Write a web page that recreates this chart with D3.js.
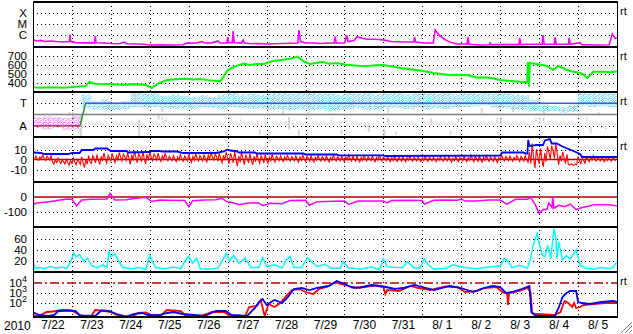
<!DOCTYPE html>
<html lang="en">
<head>
<meta charset="utf-8">
<title>Space weather stack plot, 2010 Jul 22 - Aug 5</title>
<script src="https://cdnjs.cloudflare.com/ajax/libs/d3/7.8.5/d3.min.js"></script>
<style>
    body { margin: 0; background: #fff; }
    svg text { font-family: "Liberation Sans", Arial, sans-serif; fill: #000; }
</style>
</head>
<body>
<svg id="chart" width="633" height="334"></svg>
<script>
    // ---- data (t = days since 2010-07-22 00:00) ----
    var dayLabels = ["7/22", "7/23", "7/24", "7/25", "7/26", "7/27", "7/28", "7/29", "7/30", "7/31",
        "8/ 1", "8/ 2", "8/ 3", "8/ 4", "8/ 5"];

    // GOES x-ray flux, log10 W/m2
    var xrayLog = [[0,-6.45],[0.1,-6.55],[0.2,-6.5],[0.3,-6.6],[0.45,-6.55],[0.6,-6.6],[0.8,-6.65],[0.93,-6.6],[0.95,-6.0],[0.97,-6.6],
        [1.1,-6.7],[1.3,-6.72],[1.5,-6.7],[1.58,-6.74],[1.6,-6.1],[1.62,-6.72],[1.8,-6.74],[2.0,-6.78],[2.2,-6.8],[2.35,-6.65],[2.4,-6.8],
        [2.6,-6.83],[2.85,-6.85],[3.0,-6.92],[3.3,-6.9],[3.6,-6.92],[3.85,-6.9],[3.95,-6.75],[4.2,-6.74],[4.35,-6.6],[4.4,-6.74],[4.6,-6.72],
        [4.75,-6.55],[4.8,-6.74],[4.98,-6.74],[5.0,-6.2],[5.02,-6.7],[5.12,-6.7],[5.14,-5.64],[5.17,-6.7],[5.35,-6.74],[5.4,-6.46],[5.43,-6.74],
        [5.6,-6.8],[5.8,-6.78],[6.0,-6.83],[6.2,-6.8],[6.4,-6.78],[6.6,-6.76],[6.8,-6.74],[6.83,-5.55],[6.87,-6.6],[7.0,-6.74],[7.2,-6.74],
        [7.4,-6.78],[7.6,-6.74],[7.74,-6.74],[7.76,-6.15],[7.79,-6.74],[8.0,-6.74],[8.06,-6.05],[8.09,-6.6],[8.25,-6.5],[8.32,-6.15],[8.45,-6.3],
        [8.6,-6.4],[8.8,-6.4],[9.0,-6.45],[9.2,-6.6],[9.5,-6.64],[9.78,-6.64],[9.8,-6.2],[9.83,-6.64],[10.0,-6.74],[10.28,-6.74],[10.33,-5.55],
        [10.45,-6.1],[10.6,-6.46],[10.75,-6.7],[10.9,-6.83],[11.15,-6.83],[11.17,-6.19],[11.2,-6.85],[11.5,-6.92],[11.72,-6.9],[11.74,-6.74],
        [11.77,-6.9],[12.0,-6.88],[12.48,-6.88],[12.5,-6.28],[12.53,-6.88],[12.7,-6.85],[13.08,-6.85],[13.1,-6.01],[13.13,-6.85],[13.39,-6.85],
        [13.41,-6.19],[13.44,-6.85],[13.75,-6.85],[13.77,-6.28],[13.8,-6.85],[14.05,-6.7],[14.1,-6.88],[14.5,-6.92],[14.8,-6.9],[14.88,-5.92],
        [14.95,-6.3],[15,-6.3]];

    // solar wind speed, km/s
    var speed = [[0,352],[0.2,348],[0.4,352],[0.6,350],[0.8,348],[1.0,355],[1.2,360],[1.35,365],[1.45,415],[1.55,395],[1.7,390],[2.0,385],
        [2.3,380],[2.6,385],[2.9,378],[3.05,344],[3.2,390],[3.44,433],[3.6,438],[3.86,448],[4.1,440],[4.29,444],[4.5,432],[4.72,422],[4.8,415],
        [4.85,440],[5.0,544],[5.2,585],[5.4,615],[5.57,600],[5.75,612],[5.92,611],[6.17,644],[6.43,659],[6.6,670],[6.8,693],[6.94,644],
        [7.11,611],[7.3,625],[7.45,633],[7.6,615],[7.8,622],[8.0,605],[8.14,600],[8.35,592],[8.57,589],[8.8,598],[8.99,600],[9.2,585],
        [9.43,567],[9.65,555],[9.86,544],[10.05,530],[10.28,511],[10.5,500],[10.71,489],[10.9,492],[11.15,489],[11.43,459],[11.6,465],
        [11.8,452],[12.0,433],[12.2,425],[12.5,415],[12.69,407],[12.71,633],[12.74,360],[12.76,625],[12.8,620],[12.94,611],
        [13.2,589],[13.36,544],[13.49,589],[13.65,560],[13.79,533],[14.05,511],[14.15,490],[14.23,456],[14.3,480],[14.39,526],[14.64,526],
        [14.85,520],[15,530]];

    // IMF sector (A = 90, T = 270) and azimuth angle readings
    var sector = [[0,90],[1.21,90],[1.35,270],[15,270]];
    var phiLo = [70,60,75,55,60,230,220,215,215,220,240,235,240,230,225,230,225,240,230,220,240,230,225,230,220,225,215,220,215,225,
        210,215,220,230,215,220,230,235,225,240,220,230,225,235,240,245,250,235,230,220,215,210,200,205,195,200,250,240,245,240];
    var phiHi = [160,165,160,150,170,340,290,300,275,290,350,345,345,330,340,330,320,335,320,340,350,340,345,340,350,355,345,350,350,345,
        350,340,350,345,350,340,345,350,340,345,350,345,350,340,350,345,350,345,350,340,335,300,260,250,240,255,345,350,350,350];
    var phiPink = [[3.3,110,160],[3.4,120,150],[5.05,90,160],[5.3,130,150],[5.75,80,130],[6.5,110,130],[6.65,100,120],[7.65,130,150],
        [7.9,110,125],[8.5,60,110],[9.1,110,150],[10.2,100,130],[10.9,120,150],[11.9,110,150],[12.9,120,160],[13.0,110,150],[13.1,115,155],
        [14.2,130,160],[14.7,60,110]];
    var phiGray = [[0.9,180,200],[1.0,150,200],[1.2,0,190],[2.6,280,350],[2.7,0,140],[3.2,140,180],[3.3,200,230],[5.8,20,60],[6.4,180,230],
        [6.55,60,160],[6.8,10,60],[7.0,250,300],[7.05,190,200],[7.9,20,60],[8.2,250,300],[8.6,40,110],[9.0,10,60],[9.1,190,240],[9.3,20,40],
        [9.75,220,260],[10.2,120,150],[10.7,20,50],[11.5,190,230],[12.0,100,150],[12.3,200,250],[13.1,180,220],[13.6,200,230],[14.3,30,80],
        [14.5,180,200]];

    // IMF |B| (nT) and Bz range per 6 hours (nT)
    var bt = [[0,7],[0.2,6.5],[0.3,5.5],[0.9,5.5],[1.0,6.5],[1.2,6.5],[1.25,9.5],[1.55,9.5],[1.6,11],[1.9,11],[2.0,8.5],[2.4,8.5],[2.45,7],
        [3.0,7.5],[3.05,8.5],[3.25,8.5],[3.3,8],[3.7,8],[3.86,6.5],[4.7,6.5],[4.9,8],[5.0,10],[5.06,9],[5.2,8.5],[5.3,7],[5.7,7],[5.75,6],
        [6.95,6],[7.0,5],[7.8,5],[7.85,4.2],[9.0,4.2],[9.05,3.5],[12.0,4],[12.05,7],[12.6,7],[12.65,6],[12.7,6],[12.72,19.5],[12.75,13.5],
        [12.95,14.5],[13.1,14.5],[13.15,19],[13.28,20.5],[13.32,16],[13.45,16],[13.6,13],[13.85,9],[14.05,5.5],[14.1,2.5],[15,2.5]];
    var bzLo = [-1,-2,-5,-6,-6.5,-8.5,-5.5,-5,-3.5,-3,-5.5,-5,-2.5,-2.5,-2.5,-3,-3.5,-3,-2,-4,-6.5,-7.5,-6,-5.5,-4,-2.5,-2.5,-3,-3,-2.5,
        -3,-2.5,-2.5,-3,-2.5,-2.5,-2.5,-3,-2.5,-2.5,-3,-2.5,-2.5,-3,-2.5,-3.5,-3,-3.5,-2.5,-2,-3,-13,-8.5,-3,-6,-6,-5.5,-2.5,-2.5,-2.5];
    var bzHi = [4,4.5,1.5,1,1.5,4,6,6.5,7,7.5,9,9.5,7.5,6,4.5,5,6,5.5,7,7.5,9.5,8,7,6,5,4.5,4,4.5,4.5,4,
        4.5,4,4.5,4,4,4,3.5,3.5,3.5,3,3.5,3,3.5,3,3.5,4.5,4,4,4.5,4,4.5,16,13,18,8,-4,3,4,2.5,2.5];

    // Dst (nT)
    var dst = [[0,-31],[0.05,-47],[0.1,-40],[0.3,-35],[0.5,-28],[0.7,-20],[0.9,-13],[1.0,-15],[1.12,-58],[1.25,-20],[1.5,-15],[1.9,-14],
        [1.98,24],[2.1,-20],[2.4,-18],[2.6,-10],[2.9,-2],[3.05,-30],[3.26,-20],[3.5,-22],[3.9,-24],[4.0,-64],[4.1,-25],[4.4,-20],[4.7,-18],
        [4.85,-9],[4.98,-31],[5.15,-40],[5.3,-52],[5.5,-40],[5.8,-40],[5.9,-58],[6.1,-42],[6.4,-45],[6.6,-24],[7.0,-22],[7.1,-55],[7.3,-31],
        [7.7,-28],[8.0,-26],[8.1,-50],[8.35,-27],[8.7,-26],[9.0,-27],[9.1,-40],[9.2,-24],[9.6,-22],[10.0,-24],[10.05,-47],[10.3,-22],
        [10.6,-20],[10.9,-22],[11.0,-13],[11.1,-27],[11.4,-26],[11.7,-20],[12.0,-20],[12.17,-47],[12.4,-15],[12.7,-15],[12.78,-2],[12.9,-51],
        [13.0,-110],[13.1,-84],[13.2,-84],[13.25,-40],[13.33,-70],[13.35,7],[13.38,-75],[13.5,-55],[13.65,-65],[13.8,-47],[13.95,-84],
        [14.1,-70],[14.3,-60],[14.4,-51],[14.8,-51],[15,-60]];

    // cyan index
    var cyanIdx = [[0,19],[0.05,7],[0.15,8],[0.3,6],[0.45,10],[0.6,7],[0.75,9],[0.86,6],[0.95,16],[1.05,34],[1.1,28],[1.2,31],[1.3,20],
        [1.4,25],[1.5,12],[1.65,8],[1.8,13],[1.9,9],[1.95,38],[2.0,28],[2.1,33],[2.2,20],[2.3,9],[2.5,6],[2.7,8],[2.9,5],[3.0,30],[3.05,22],
        [3.15,8],[3.4,6],[3.6,9],[3.8,6],[3.9,20],[4.0,28],[4.1,16],[4.2,25],[4.3,6],[4.5,5],[4.75,7],[4.97,34],[5.05,20],[5.15,30],[5.3,16],
        [5.45,25],[5.6,8],[5.8,8],[5.9,26],[6.0,10],[6.2,13],[6.4,7],[6.5,22],[6.6,28],[6.7,8],[6.9,8],[7.05,26],[7.15,19],[7.3,10],[7.5,14],
        [7.65,7],[7.9,7],[7.95,19],[8.1,8],[8.4,5],[8.7,9],[8.9,4],[9.0,24],[9.1,10],[9.3,8],[9.5,8],[9.6,19],[9.8,7],[9.95,8],[10.05,24],
        [10.15,13],[10.3,5],[10.6,7],[10.8,13],[10.95,10],[11.1,8],[11.4,6],[11.7,9],[12.0,11],[12.1,24],[12.2,20],[12.3,8],[12.5,12],
        [12.7,7],[12.78,24],[12.85,50],[12.95,70],[13.0,51],[13.08,30],[13.15,28],[13.22,48],[13.3,24],[13.38,79],[13.43,60],[13.46,24],
        [13.5,55],[13.6,22],[13.7,30],[13.8,24],[13.95,40],[14.05,13],[14.2,7],[14.4,5],[14.6,8],[14.8,6],[14.9,8],[15,19]];

    // electron flux, log10
    var eRedLog = [[0,0.7],[0.2,0.8],[0.35,1.1],[0.5,1.15],[0.75,1.3],[1.0,1.25],[1.15,0.9],[1.3,0.7],[1.5,0.7],[1.6,1.3],[1.75,1.25],
        [2.0,1.1],[2.15,0.8],[2.3,0.65],[2.55,0.65],[2.7,1.0],[2.9,1.05],[3.05,0.8],[3.3,0.8],[3.44,1.3],[3.8,1.2],[3.9,0.8],[4.3,0.7],
        [4.6,1.1],[4.9,1.1],[5.05,0.75],[5.45,0.7],[5.55,1.6],[5.75,1.7],[5.85,2.3],[5.95,0.7],[6.05,1.9],[6.2,1.6],[6.35,2.0],[6.5,2.7],
        [6.65,3.3],[6.85,3.4],[7.0,3.1],[7.2,2.9],[7.35,3.4],[7.55,3.6],[7.75,4.05],[7.95,3.85],[8.1,3.7],[8.3,3.5],[8.5,3.6],[8.8,3.75],
        [9.0,3.6],[9.05,2.9],[9.1,3.3],[9.4,3.2],[9.7,3.7],[9.9,3.5],[10.2,3.3],[10.6,3.65],[10.9,3.6],[11.1,3.1],[11.4,3.2],[11.6,3.5],
        [11.9,3.6],[12.05,3.1],[12.18,2.9],[12.2,1.8],[12.23,3.0],[12.5,3.2],[12.7,3.5],[12.78,3.1],[12.82,1.0],[12.9,0.9],[13.4,0.8],
        [13.55,1.1],[13.65,2.2],[13.75,2.0],[13.85,1.6],[13.9,2.0],[13.95,1.5],[14.05,1.6],[14.15,1.8],[14.4,1.9],[14.7,2.0],[15,2.0]];
    var eBlueLog = [[0,1.1],[0.15,0.8],[0.4,0.7],[0.55,0.8],[0.65,1.2],[0.9,1.25],[1.1,1.2],[1.2,0.75],[1.6,0.7],[1.75,1.25],[1.95,1.2],
        [2.15,0.9],[2.4,0.65],[2.6,0.9],[2.8,1.0],[2.95,0.8],[3.2,0.75],[3.45,1.0],[3.6,1.1],[3.85,0.9],[4.4,0.7],[4.7,1.2],[4.95,1.2],
        [5.1,0.8],[5.5,0.7],[5.7,1.5],[5.8,2.1],[5.9,2.4],[6.0,1.8],[6.2,2.3],[6.4,2.0],[6.55,2.6],[6.7,3.4],[6.9,3.5],[7.1,3.3],[7.3,3.5],
        [7.6,3.7],[7.8,4.2],[8.0,3.9],[8.2,3.55],[8.4,3.55],[8.7,3.8],[9.0,3.65],[9.3,3.4],[9.5,3.5],[9.8,3.8],[10.0,3.6],[10.3,3.3],
        [10.7,3.7],[11.0,3.5],[11.3,3.1],[11.5,3.4],[11.8,3.7],[12.0,3.6],[12.15,3.0],[12.3,3.1],[12.55,3.4],[12.75,3.7],[12.8,1.1],
        [12.9,0.75],[13.4,0.7],[13.5,1.5],[13.6,2.6],[13.7,3.0],[13.8,3.2],[13.95,3.2],[14.0,2.1],[14.1,2.0],[14.3,1.9],[14.6,2.1],
        [14.9,2.2],[15,2.1]];

    // ---- layout ----
    var left = 33, right = 617, top0 = 2, ph = 45, nPanels = 7;
    var bottom = top0 + ph * nPanels;
    var ptop = function (i) { return top0 + i * ph; };

    var svg = d3.select("#chart");
    var x = d3.scaleLinear().domain([0, 15]).range([left, right]);

    function yr(i) { return [ptop(i) + ph, ptop(i)]; }
    var yX = d3.scaleLog().domain([Math.pow(10, -7.1), 1e-3]).range(yr(0));
    var yV = d3.scaleLinear().domain([300, 800]).range(yr(1));
    var yPhi = d3.scaleLinear().domain([0, 360]).range(yr(2));
    var yB = d3.scaleLinear().domain([-22.5, 22.5]).range(yr(3));
    var yDst = d3.scaleLinear().domain([-200, 100]).range(yr(4));
    var yC = d3.scaleLinear().domain([0, 81.8]).range(yr(5));
    var yE = d3.scaleLog().domain([Math.pow(10, 0.6), Math.pow(10, 5.1)]).range(yr(6));

    var defs = svg.append("defs");
    for (var i = 0; i < nPanels; i++) {
        defs.append("clipPath").attr("id", "clip" + i).append("rect")
            .attr("x", left).attr("y", ptop(i)).attr("width", right - left).attr("height", ph);
    }
    // speckle pattern for the azimuth scatter
    function speckle(id, color) {
        var p = defs.append("pattern").attr("id", id).attr("patternUnits", "userSpaceOnUse")
            .attr("width", 5).attr("height", 4);
        [[0,0],[1,0],[3,0],[2,1],[4,1],[0,2],[1,2],[3,2],[4,2],[2,3],[3,3]].forEach(function (c) {
            p.append("rect").attr("x", c[0]).attr("y", c[1]).attr("width", 1).attr("height", 1).attr("fill", color);
        });
    }
    speckle("speckCyan", "#88dcff");
    speckle("speckPink", "#f0a0f0");

    // ---- grid ----
    var grid = svg.append("g").attr("stroke", "#000").attr("stroke-width", 1).attr("stroke-dasharray", "1,3");
    d3.range(1, 15).forEach(function (d) {
        grid.append("line").attr("x1", Math.round(x(d)) + 0.5).attr("x2", Math.round(x(d)) + 0.5)
            .attr("y1", top0).attr("y2", bottom);
    });
    function hgrid(scale, vals) {
        vals.forEach(function (v) {
            var yy = Math.round(scale(v)) + 0.5;
            grid.append("line").attr("x1", left).attr("x2", right).attr("y1", yy).attr("y2", yy);
        });
    }
    hgrid(yX, [1e-6, 1e-5, 1e-4]);
    hgrid(yV, [400, 500, 600, 700]);
    hgrid(yPhi, [90, 270]);
    hgrid(yB, [-10, 10]);
    hgrid(yDst, [-100]);
    hgrid(yC, [20, 40, 60]);
    hgrid(yE, [1e2, 1e3]);

    function lineOf(yScale, fy) {
        return d3.line().x(function (d) { return x(d[0]); }).y(function (d) { return yScale(fy ? fy(d[1]) : d[1]); });
    }
    function pow10(v) { return Math.pow(10, v); }
    function panelG(i) { return svg.append("g").attr("clip-path", "url(#clip" + i + ")"); }

    // panel 0: x-ray
    panelG(0).append("path").datum(xrayLog).attr("d", lineOf(yX, pow10))
        .attr("fill", "none").attr("stroke", "#ff00ff").attr("stroke-width", 1.6);

    // panel 1: speed
    panelG(1).append("path").datum(speed).attr("d", lineOf(yV))
        .attr("fill", "none").attr("stroke", "#00ff00").attr("stroke-width", 2);

    // panel 2: sector / azimuth
    var g2 = panelG(2);
    var binW = 0.25;
    phiLo.forEach(function (lo, k) {
        var hi = phiHi[k];
        g2.append("rect").attr("x", x(k * binW)).attr("width", x(binW) - x(0))
            .attr("y", yPhi(hi)).attr("height", yPhi(lo) - yPhi(hi))
            .attr("fill", (lo + hi) / 2 > 180 ? "url(#speckCyan)" : "url(#speckPink)");
    });
    phiPink.forEach(function (d) {
        g2.append("rect").attr("x", x(d[0])).attr("width", 1.5).attr("y", yPhi(d[2]))
            .attr("height", yPhi(d[1]) - yPhi(d[2])).attr("fill", "url(#speckPink)");
    });
    phiGray.forEach(function (d) {
        g2.append("rect").attr("x", x(d[0])).attr("width", 2).attr("y", yPhi(d[2]))
            .attr("height", yPhi(d[1]) - yPhi(d[2])).attr("fill", "#cccccc").attr("opacity", 0.8);
    });
    g2.append("line").attr("x1", left).attr("x2", right).attr("y1", yPhi(180)).attr("y2", yPhi(180))
        .attr("stroke", "#808080").attr("stroke-width", 1.5);
    var sectorColors = ["#e03030", "#3c8c3c", "#4458e0"];
    for (var s = 0; s < sector.length - 1; s++) {
        g2.append("line").attr("x1", x(sector[s][0])).attr("x2", x(sector[s + 1][0]))
            .attr("y1", yPhi(sector[s][1])).attr("y2", yPhi(sector[s + 1][1]))
            .attr("stroke", sectorColors[s]).attr("stroke-width", 1.5);
    }

    // panel 3: IMF
    var g3 = panelG(3);
    g3.append("line").attr("x1", left).attr("x2", right).attr("y1", yB(0)).attr("y2", yB(0))
        .attr("stroke", "#b00000").attr("stroke-width", 1.5);
    // Bz drawn as a min/max envelope trace within each 6-hour bin
    var fracSeq = [0.55, 0.2, 0.9, 0.4, 0.05, 0.7, 0.3, 1, 0.5, 0.15, 0.8];
    var perBin = 7;
    var bzPts = [];
    bzLo.forEach(function (lo, k) {
        var hi = bzHi[k];
        for (var j = 0; j < perBin; j++) {
            var f = fracSeq[(k * perBin + j) % fracSeq.length];
            bzPts.push([k * binW + j * binW / perBin, lo + f * (hi - lo)]);
        }
    });
    g3.append("path").datum(bzPts).attr("d", lineOf(yB))
        .attr("fill", "none").attr("stroke", "#ff0000").attr("stroke-width", 1.1);
    g3.append("path").datum(bt).attr("d", lineOf(yB))
        .attr("fill", "none").attr("stroke", "#0000ff").attr("stroke-width", 1.8);

    // panel 4: Dst
    var g4 = panelG(4);
    g4.append("line").attr("x1", left).attr("x2", right).attr("y1", yDst(0)).attr("y2", yDst(0))
        .attr("stroke", "#b00000").attr("stroke-width", 1.5);
    g4.append("path").datum(dst).attr("d", lineOf(yDst))
        .attr("fill", "none").attr("stroke", "#ff00ff").attr("stroke-width", 1.5);

    // panel 5: cyan index
    panelG(5).append("path").datum(cyanIdx).attr("d", lineOf(yC))
        .attr("fill", "none").attr("stroke", "#00ffff").attr("stroke-width", 1.5);

    // panel 6: electrons
    var g6 = panelG(6);
    g6.append("line").attr("x1", left).attr("x2", right).attr("y1", yE(1e4)).attr("y2", yE(1e4))
        .attr("stroke", "#b00000").attr("stroke-width", 1.5).attr("stroke-dasharray", "9,3,2,3");
    g6.append("path").datum(eRedLog).attr("d", lineOf(yE, pow10))
        .attr("fill", "none").attr("stroke", "#ff0000").attr("stroke-width", 1.8);
    g6.append("path").datum(eBlueLog).attr("d", lineOf(yE, pow10))
        .attr("fill", "none").attr("stroke", "#0000ff").attr("stroke-width", 1.8);

    // ---- frame ----
    var frame = svg.append("g").attr("stroke", "#000");
    frame.append("line").attr("x1", left + 0.5).attr("x2", left + 0.5).attr("y1", top0).attr("y2", bottom);
    frame.append("line").attr("x1", right + 0.5).attr("x2", right + 0.5).attr("y1", top0).attr("y2", bottom);
    d3.range(0, nPanels + 1).forEach(function (i) {
        frame.append("line").attr("x1", left).attr("x2", right + 1).attr("y1", ptop(i)).attr("y2", ptop(i))
            .attr("stroke-width", 2);
    });

    // ---- axes labels ----
    function leftAxis(scale, vals, fmt) {
        var a = svg.append("g").attr("transform", "translate(" + left + ",0)")
            .call(d3.axisLeft(scale).tickValues(vals).tickFormat(fmt).tickSize(0).tickPadding(6));
        a.select(".domain").remove();
        a.attr("font-family", null).attr("font-size", null);
        a.selectAll("text").attr("font-size", 11.5);
        return a;
    }
    leftAxis(yX, [1e-4, 1e-5, 1e-6], function (d) { return d >= 1e-4 * 0.99 ? "X" : d >= 1e-5 * 0.99 ? "M" : "C"; });
    leftAxis(yV, [400, 500, 600, 700], function (d) { return String(d); });
    leftAxis(yPhi, [90, 270], function (d) { return d === 270 ? "T" : "A"; });
    leftAxis(yB, [-10, 0, 10], function (d) { return String(d); });
    leftAxis(yDst, [-100, 0], function (d) { return String(d); });
    leftAxis(yC, [20, 40, 60], function (d) { return String(d); });
    var eAx = leftAxis(yE, [1e2, 1e3, 1e4], function () { return ""; });
    eAx.selectAll("text").each(function (d) {
        var t = d3.select(this);
        t.append("tspan").text("10");
        t.append("tspan").attr("dy", -5).attr("font-size", 9).text(String(Math.round(Math.log10(d))));
    });

    var bAx = svg.append("g").attr("transform", "translate(0," + bottom + ")")
        .call(d3.axisBottom(x).tickValues(d3.range(15).map(function (d) { return d + 0.5; }))
            .tickFormat(function (d, k) { return dayLabels[k]; }).tickSize(0).tickPadding(3));
    bAx.select(".domain").remove();
    bAx.attr("font-family", null).attr("font-size", null);
    bAx.selectAll("text").attr("font-size", 12);

    svg.append("text").attr("x", 4).attr("y", 330).attr("font-size", 12).text("2010");

    [0, 1, 2, 3, 6].forEach(function (i) {
        svg.append("text").attr("x", 620).attr("y", ptop(i) + 13).attr("font-size", 11).text("rt");
    });

    // window resize grip
    var grip = svg.append("g");
    [0, 4, 8].forEach(function (o) {
        grip.append("line").attr("x1", 621 + o).attr("y1", 333).attr("x2", 632).attr("y2", 322 + o)
            .attr("stroke", "#808080").attr("stroke-width", 1);
        grip.append("line").attr("x1", 622 + o).attr("y1", 333).attr("x2", 632).attr("y2", 323 + o)
            .attr("stroke", "#ffffff").attr("stroke-width", 1);
    });
</script>
</body>
</html>
